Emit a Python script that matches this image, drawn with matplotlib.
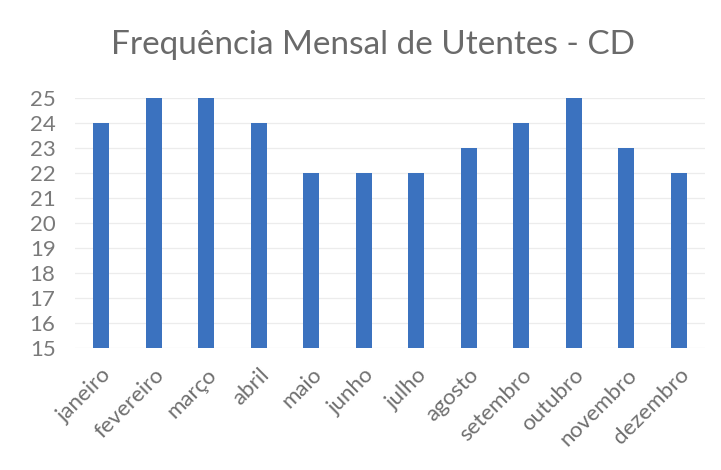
import matplotlib
matplotlib.use("Agg")
import matplotlib.pyplot as plt
import numpy as np

months = ["janeiro", "fevereiro", "março", "abril", "maio", "junho",
          "julho", "agosto", "setembro", "outubro", "novembro", "dezembro"]
utentes = [24, 25, 25, 24, 22, 22, 22, 23, 24, 25, 23, 22]
y_ticks = list(range(15, 26))

plt.rcParams["font.family"] = ["Lato", "DejaVu Sans"]

fig = plt.figure(figsize=(7.21, 4.70), dpi=100)
fig.patch.set_facecolor("white")
ax = fig.add_axes([0.104, 0.2596, 0.874, 0.532])

x = np.arange(len(months))
ax.bar(x, [v - 15 for v in utentes], bottom=15, width=0.3, color="#3b72bf", zorder=3)

ax.set_xlim(-0.5, len(months) - 0.5)
ax.set_ylim(15, 25)
ax.set_yticks(y_ticks)
ax.set_yticklabels([str(t) for t in y_ticks], fontsize=16, color="#7a7a7a")
ax.set_xticks(x)
ax.set_xticklabels(months, rotation=45, ha="right", rotation_mode="anchor",
                   fontsize=16, color="#6f6f6f")
ax.tick_params(axis="y", length=0, pad=14)
ax.tick_params(axis="x", length=0, pad=12)
ax.grid(axis="y", color="#ececec", linewidth=0.9, zorder=0)
for s in ax.spines.values():
    s.set_visible(False)

fig.text(0.517, 0.905, "Frequência Mensal de Utentes - CD", ha="center", va="center",
         fontsize=24, color="#6a6a6a")

fig.savefig("out.png", dpi=100, facecolor="white")
